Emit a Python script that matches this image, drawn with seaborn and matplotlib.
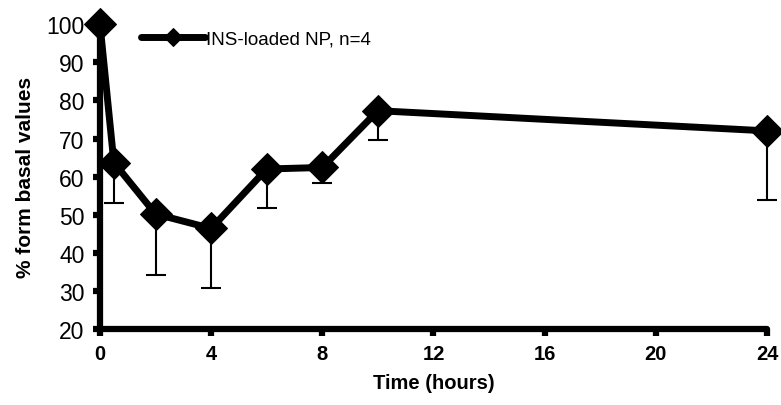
import numpy as np
import pandas as pd
import seaborn as sns
import matplotlib
matplotlib.use("Agg")
import matplotlib.pyplot as plt

time_h = [0, 0.5, 2, 4, 6, 8, 10, 24]
pct_basal = [100, 63.7, 50.2, 46.4, 62.0, 62.4, 77.3, 72.0]
lower_err = [0, 10.5, 16.0, 15.6, 10.3, 4.2, 7.6, 18.1]
x_ticks = [0, 4, 8, 12, 16, 20, 24]
y_ticks = [20, 30, 40, 50, 60, 70, 80, 90, 100]
series_label = "INS-loaded NP, n=4"

sns.set_theme(style="white")
plt.rcParams['font.family'] = ['Liberation Sans', 'DejaVu Sans']
plt.rcParams['text.color'] = 'black'
plt.rcParams['axes.labelcolor'] = 'black'
plt.rcParams['xtick.color'] = 'black'
plt.rcParams['ytick.color'] = 'black'

df = pd.DataFrame({"Time": time_h, "Value": pct_basal})

fig = plt.figure(figsize=(7.81, 4.06), dpi=100)
ax = fig.add_axes([0.128, 0.187, 0.854, 0.751])

ax.errorbar(time_h, pct_basal, yerr=[lower_err, [0]*len(lower_err)], fmt='none',
            ecolor='black', elinewidth=1.5, capsize=7, capthick=1.5, zorder=2,
            clip_on=False)
sns.lineplot(data=df, x="Time", y="Value", ax=ax, color='black', linewidth=5,
             marker='D', markersize=16, markeredgecolor='black',
             markerfacecolor='black', label=series_label, zorder=3, clip_on=False)

ax.set_xlim(0, 24)
ax.set_ylim(20, 100)
ax.set_xticks(x_ticks)
ax.set_yticks(y_ticks)
ax.set_xticklabels([str(v) for v in x_ticks], fontsize=14.5, fontweight='bold')
ax.set_yticklabels([str(v) for v in y_ticks], fontsize=16.5)
ax.set_xlabel("Time (hours)", fontsize=14.5, fontweight='bold', labelpad=7)
ax.set_ylabel("% form basal values", fontsize=15, fontweight='bold', labelpad=8)

for s in ['top', 'right']:
    ax.spines[s].set_visible(False)
for s in ['left', 'bottom']:
    ax.spines[s].set_linewidth(4.5)
    ax.spines[s].set_color('black')
    ax.spines[s].set_capstyle('round')
ax.tick_params(axis='both', which='major', direction='out', length=5, width=4.5,
               color='black', left=True, bottom=True)
ax.tick_params(axis='x', pad=6)
ax.tick_params(axis='y', pad=6)
for t in ax.xaxis.get_major_ticks() + ax.yaxis.get_major_ticks():
    t.tick1line.set_solid_capstyle('round')
    t.tick1line.set_markeredgewidth(4.5)

leg = ax.legend(loc='upper left', bbox_to_anchor=(0.05, 1.005), frameon=False,
                fontsize=13.5, handlelength=3.4, handletextpad=0.1, borderaxespad=0)
for h in leg.legend_handles:
    h.set_linewidth(5)
    h.set_markersize(9)

fig.savefig("out.png", dpi=100)
